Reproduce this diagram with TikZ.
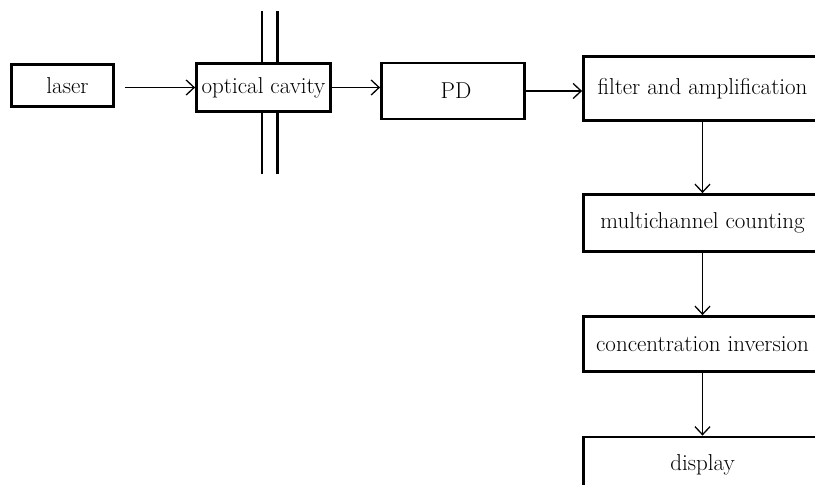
\documentclass[tikz,border=0pt]{standalone}
\usetikzlibrary{arrows.meta}
\begin{document}
\begin{tikzpicture}[x=1pt,y=-1pt,
  box/.style={draw=black,line width=2.8pt,inner sep=0pt,font=\fontsize{23}{27}\selectfont},
  arr/.style={line width=1.3pt,-{Straight Barb[length=8pt,width=15pt,line width=1.3pt]}},
  bar/.style={line width=2.8pt}]
\useasboundingbox (0,0) rectangle (815,485);
\clip (0,0) rectangle (815,485);
\node[box,minimum width=102pt,minimum height=42pt] (laser) at (62.5,85.5) {\hspace*{10pt}laser};
\node[box,minimum width=134pt,minimum height=48pt] (cavity) at (263.5,87.5) {optical cavity};
\node[box,minimum width=143pt,minimum height=56pt] (pd) at (453,91) {\hspace*{6pt}PD};
\node[box,minimum width=238pt,minimum height=64pt] (filter) at (702.5,88.5) {filter and amplification};
\node[box,minimum width=238pt,minimum height=57pt] (multi) at (702.5,223) {multichannel counting};
\node[box,minimum width=238pt,minimum height=55pt] (conc) at (702.5,344) {concentration inversion};
\node[box,minimum width=238pt,minimum height=56pt] (disp) at (702.5,465) {display};
% cavity mirrors
\coordinate (t1) at (262,11);
\coordinate (t2) at (277.5,11);
\coordinate (b1) at (262,174);
\coordinate (b2) at (277.5,174);
\draw[bar] (t1) -- (t1 |- cavity.north);
\draw[bar] (t2) -- (t2 |- cavity.north);
\draw[bar] (b1) -- (b1 |- cavity.south);
\draw[bar] (b2) -- (b2 |- cavity.south);
% connectors
\draw[arr] ([xshift=10pt]laser.east |- cavity.west) -- (cavity.west);
\draw[arr] (cavity.east) -- (cavity.east -| pd.west);
\draw[arr] (pd.east) -- (pd.east -| filter.west);
\draw[arr] (filter.south) -- (multi.north);
\draw[arr] (multi.south) -- (conc.north);
\draw[arr] (conc.south) -- (disp.north);
\end{tikzpicture}
\end{document}
